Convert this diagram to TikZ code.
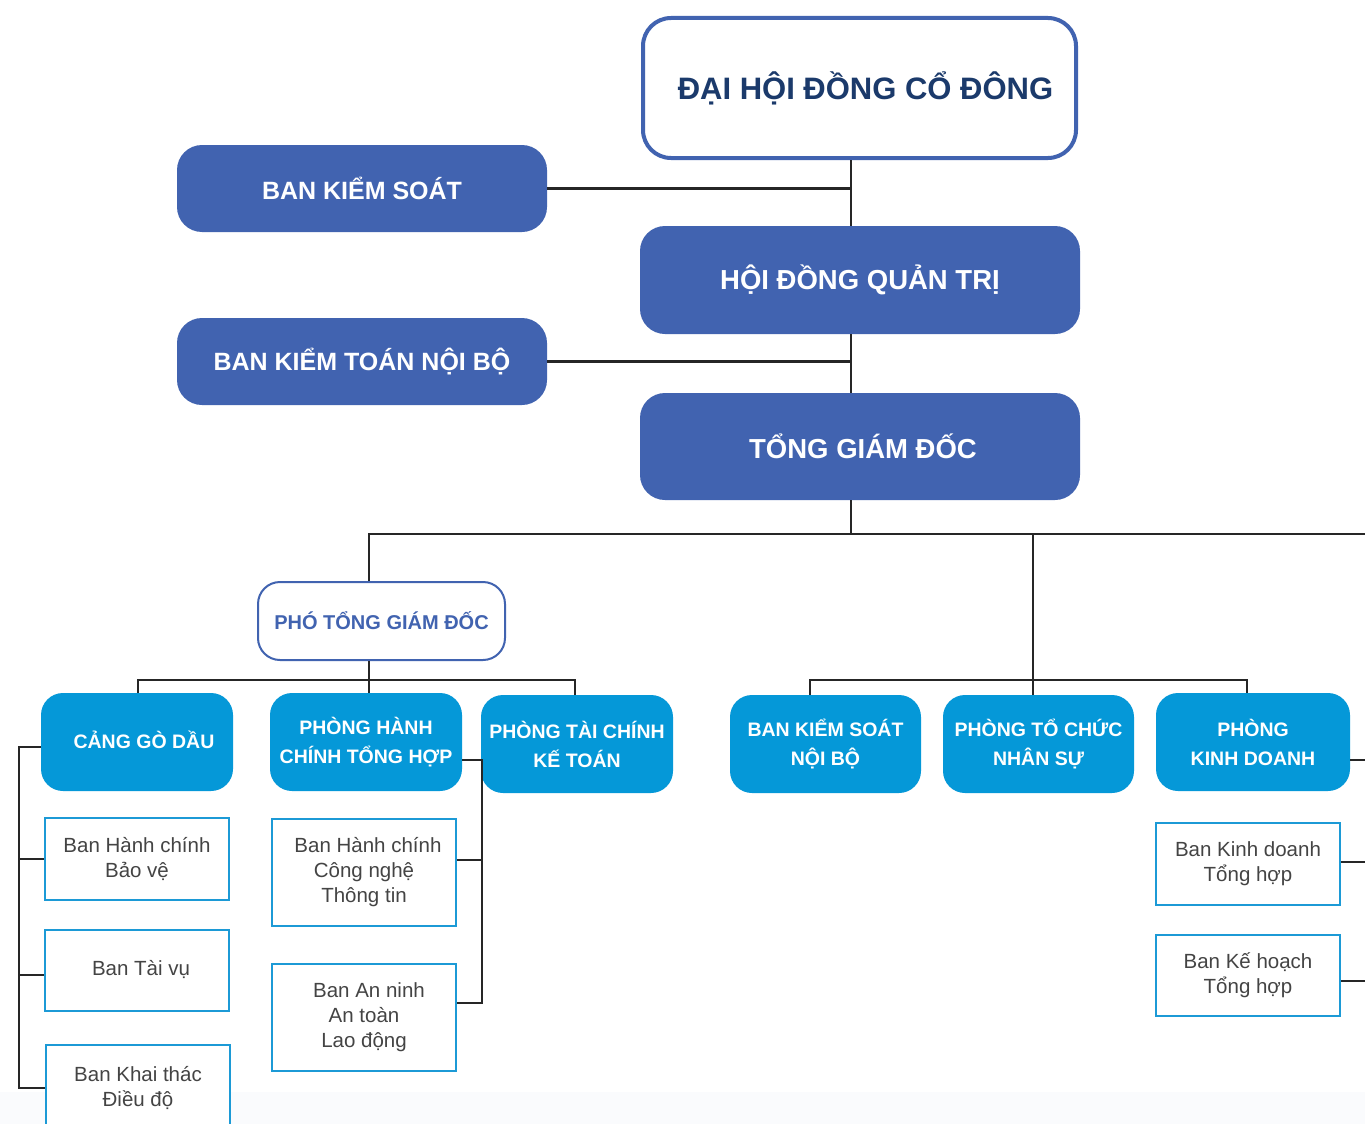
\documentclass[tikz,border=0pt]{standalone}
\usepackage{fontspec}
\setmainfont{Liberation Sans}
\begin{document}
\begin{tikzpicture}[x=1pt,y=-1pt,
  conn/.style={draw=black!85, line width=2.2pt},
  titlebox/.style={draw=cdark, line width=4pt, fill=white, rounded corners=28pt, text=cnavy, inner sep=0pt, font=\fontsize{31}{37}\selectfont\bfseries},
  darkbox/.style={fill=cdark, rounded corners=25pt, text=white, inner sep=0pt, font=\bfseries},
  ptbox/.style={draw=cdark, line width=2pt, fill=white, rounded corners=22pt, text=cdark, inner sep=0pt, font=\fontsize{20}{24}\selectfont\bfseries},
  brightbox/.style={fill=cbright, rounded corners=22pt, text=white, inner sep=0pt, align=center, font=\fontsize{19.5}{29}\selectfont\bfseries},
  subbox/.style={draw=csub, line width=2.5pt, fill=white, text=cgray, inner sep=0pt, align=center, font=\fontsize{20.5}{25}\selectfont},
]
\definecolor{cdark}{HTML}{4163B0}
\definecolor{cnavy}{HTML}{1B3A6B}
\definecolor{cbright}{HTML}{0598D8}
\definecolor{csub}{HTML}{1C9AD6}
\definecolor{cgray}{HTML}{444444}
\useasboundingbox (0,0) rectangle (1365,1124);
\fill[white] (0,0) rectangle (1365,1124);
\fill[cdark!2.5] (0,1092) rectangle (1365,1124);

% top level
\node[titlebox, minimum width=433pt, minimum height=140pt] (dh) at (859.5,88) {\hspace{12pt}\raisebox{2pt}{ĐẠI HỘI ĐỒNG CỔ ĐÔNG}};
\node[darkbox, minimum width=370pt, minimum height=87pt, font=\fontsize{25}{30}\selectfont\bfseries] (bks) at (362,188.5) {BAN KIỂM SOÁT};
\node[darkbox, minimum width=440pt, minimum height=108pt, font=\fontsize{27.5}{33}\selectfont\bfseries] (hdqt) at (860,280) {HỘI ĐỒNG QUẢN TRỊ};
\node[darkbox, minimum width=370pt, minimum height=87pt, font=\fontsize{25}{30}\selectfont\bfseries] (bktnb) at (362,361.5) {BAN KIỂM TOÁN NỘI BỘ};
\node[darkbox, minimum width=440pt, minimum height=107pt, font=\fontsize{27.5}{33}\selectfont\bfseries] (tgd) at (860,446.5) {\hspace{6pt}TỔNG GIÁM ĐỐC};

\node[ptbox, minimum width=247pt, minimum height=78pt] (ptgd) at (381.5,621) {PHÓ TỔNG GIÁM ĐỐC};

% second level
\node[brightbox, minimum width=192pt, minimum height=98pt] (cang) at (137,742) {\hspace{14pt}\raisebox{4pt}{CẢNG GÒ DẦU}};
\node[brightbox, minimum width=192pt, minimum height=98pt] (phc) at (366,742) {PHÒNG HÀNH\\CHÍNH TỔNG HỢP};
\node[brightbox, minimum width=192pt, minimum height=98pt] (ptc) at (577,744) {PHÒNG TÀI CHÍNH\\KẾ TOÁN};
\node[brightbox, minimum width=191pt, minimum height=98pt] (bksnb) at (825.5,744) {BAN KIỂM SOÁT\\NỘI BỘ};
\node[brightbox, minimum width=191pt, minimum height=98pt] (ptcns) at (1038.5,744) {PHÒNG TỔ CHỨC\\NHÂN SỰ};
\node[brightbox, minimum width=194pt, minimum height=98pt] (pkd) at (1253,742) {PHÒNG\\KINH DOANH};

% third level
\node[subbox, minimum width=184pt, minimum height=82pt] (bhcbv) at (137,859) {Ban Hành chính\\Bảo vệ};
\node[subbox, minimum width=184pt, minimum height=81pt] (btv) at (137,970.5) {\hspace{8pt}\raisebox{5pt}{Ban Tài vụ}};
\node[subbox, minimum width=184pt, minimum height=86pt] (bkt) at (138,1088) {Ban Khai thác\\Điều độ};
\node[subbox, minimum width=184pt, minimum height=107pt] (bhcnt) at (364,872.5) {\hspace{8pt}Ban Hành chính\\Công nghệ\\Thông tin};
\node[subbox, minimum width=184pt, minimum height=107pt] (banat) at (364,1017.5) {\hspace{10pt}Ban An ninh\\An toàn\\Lao động};
\node[subbox, minimum width=184pt, minimum height=82pt] (bkdth) at (1248,864) {Ban Kinh doanh\\Tổng hợp};
\node[subbox, minimum width=184pt, minimum height=81pt] (bkhth) at (1248,975.5) {Ban Kế hoạch\\Tổng hợp};

% free ends
\coordinate (hub) at (851,534);
\coordinate (rend) at (1365,534);
\coordinate (lbar) at (369,680);
\coordinate (rbar) at (1033,680);

% top connectors
\draw[conn] (dh.south -| hub) -- (hdqt.north -| hub);
\draw[conn] (bks.east) -- (bks.east -| hub);
\draw[conn] (hdqt.south -| hub) -- (tgd.north -| hub);
\draw[conn] (bktnb.east) -- (bktnb.east -| hub);
\draw[conn] (tgd.south -| hub) -- (hub);
\draw[conn] (ptgd.north -| lbar) -- (lbar |- hub) -- (rend);
\draw[conn] (rbar |- hub) -- (rbar);

% left group
\draw[conn] (ptgd.south -| lbar) -- (lbar);
\draw[conn] (cang.north -| 138,0) -- (138,680) -- (575,680) -- (ptc.north -| 575,0);
\draw[conn] (lbar) -- (phc.north -| lbar);

% right group
\draw[conn] (bksnb.north -| 810,0) -- (810,680) -- (1247,680) -- (pkd.north -| 1247,0);
\draw[conn] (rbar) -- (ptcns.north -| rbar);

% cang sub-tree
\draw[conn] ([yshift=-5pt]cang.west) -- ++(-22,0) coordinate (lt) -- (lt |- bkt.west) -- (bkt.west);
\draw[conn] (lt |- bhcbv.west) -- (bhcbv.west);
\draw[conn] (lt |- 0,975) -- (btv.west |- 0,975);

% phc sub-tree
\draw[conn] ([yshift=-18pt]phc.east) -- ++(20,0) coordinate (mt) -- (mt |- 0,1003) -- (banat.east |- 0,1003);
\draw[conn] (mt |- 0,860) -- (bhcnt.east |- 0,860);

% pkd sub-tree
\coordinate (re1) at (1365,760);
\coordinate (re2) at (1365,862);
\coordinate (re3) at (1365,981);
\draw[conn] ([yshift=-18pt]pkd.east) -- (re1);
\draw[conn] (bkdth.east |- re2) -- (re2);
\draw[conn] (bkhth.east |- re3) -- (re3);
\end{tikzpicture}
\end{document}
